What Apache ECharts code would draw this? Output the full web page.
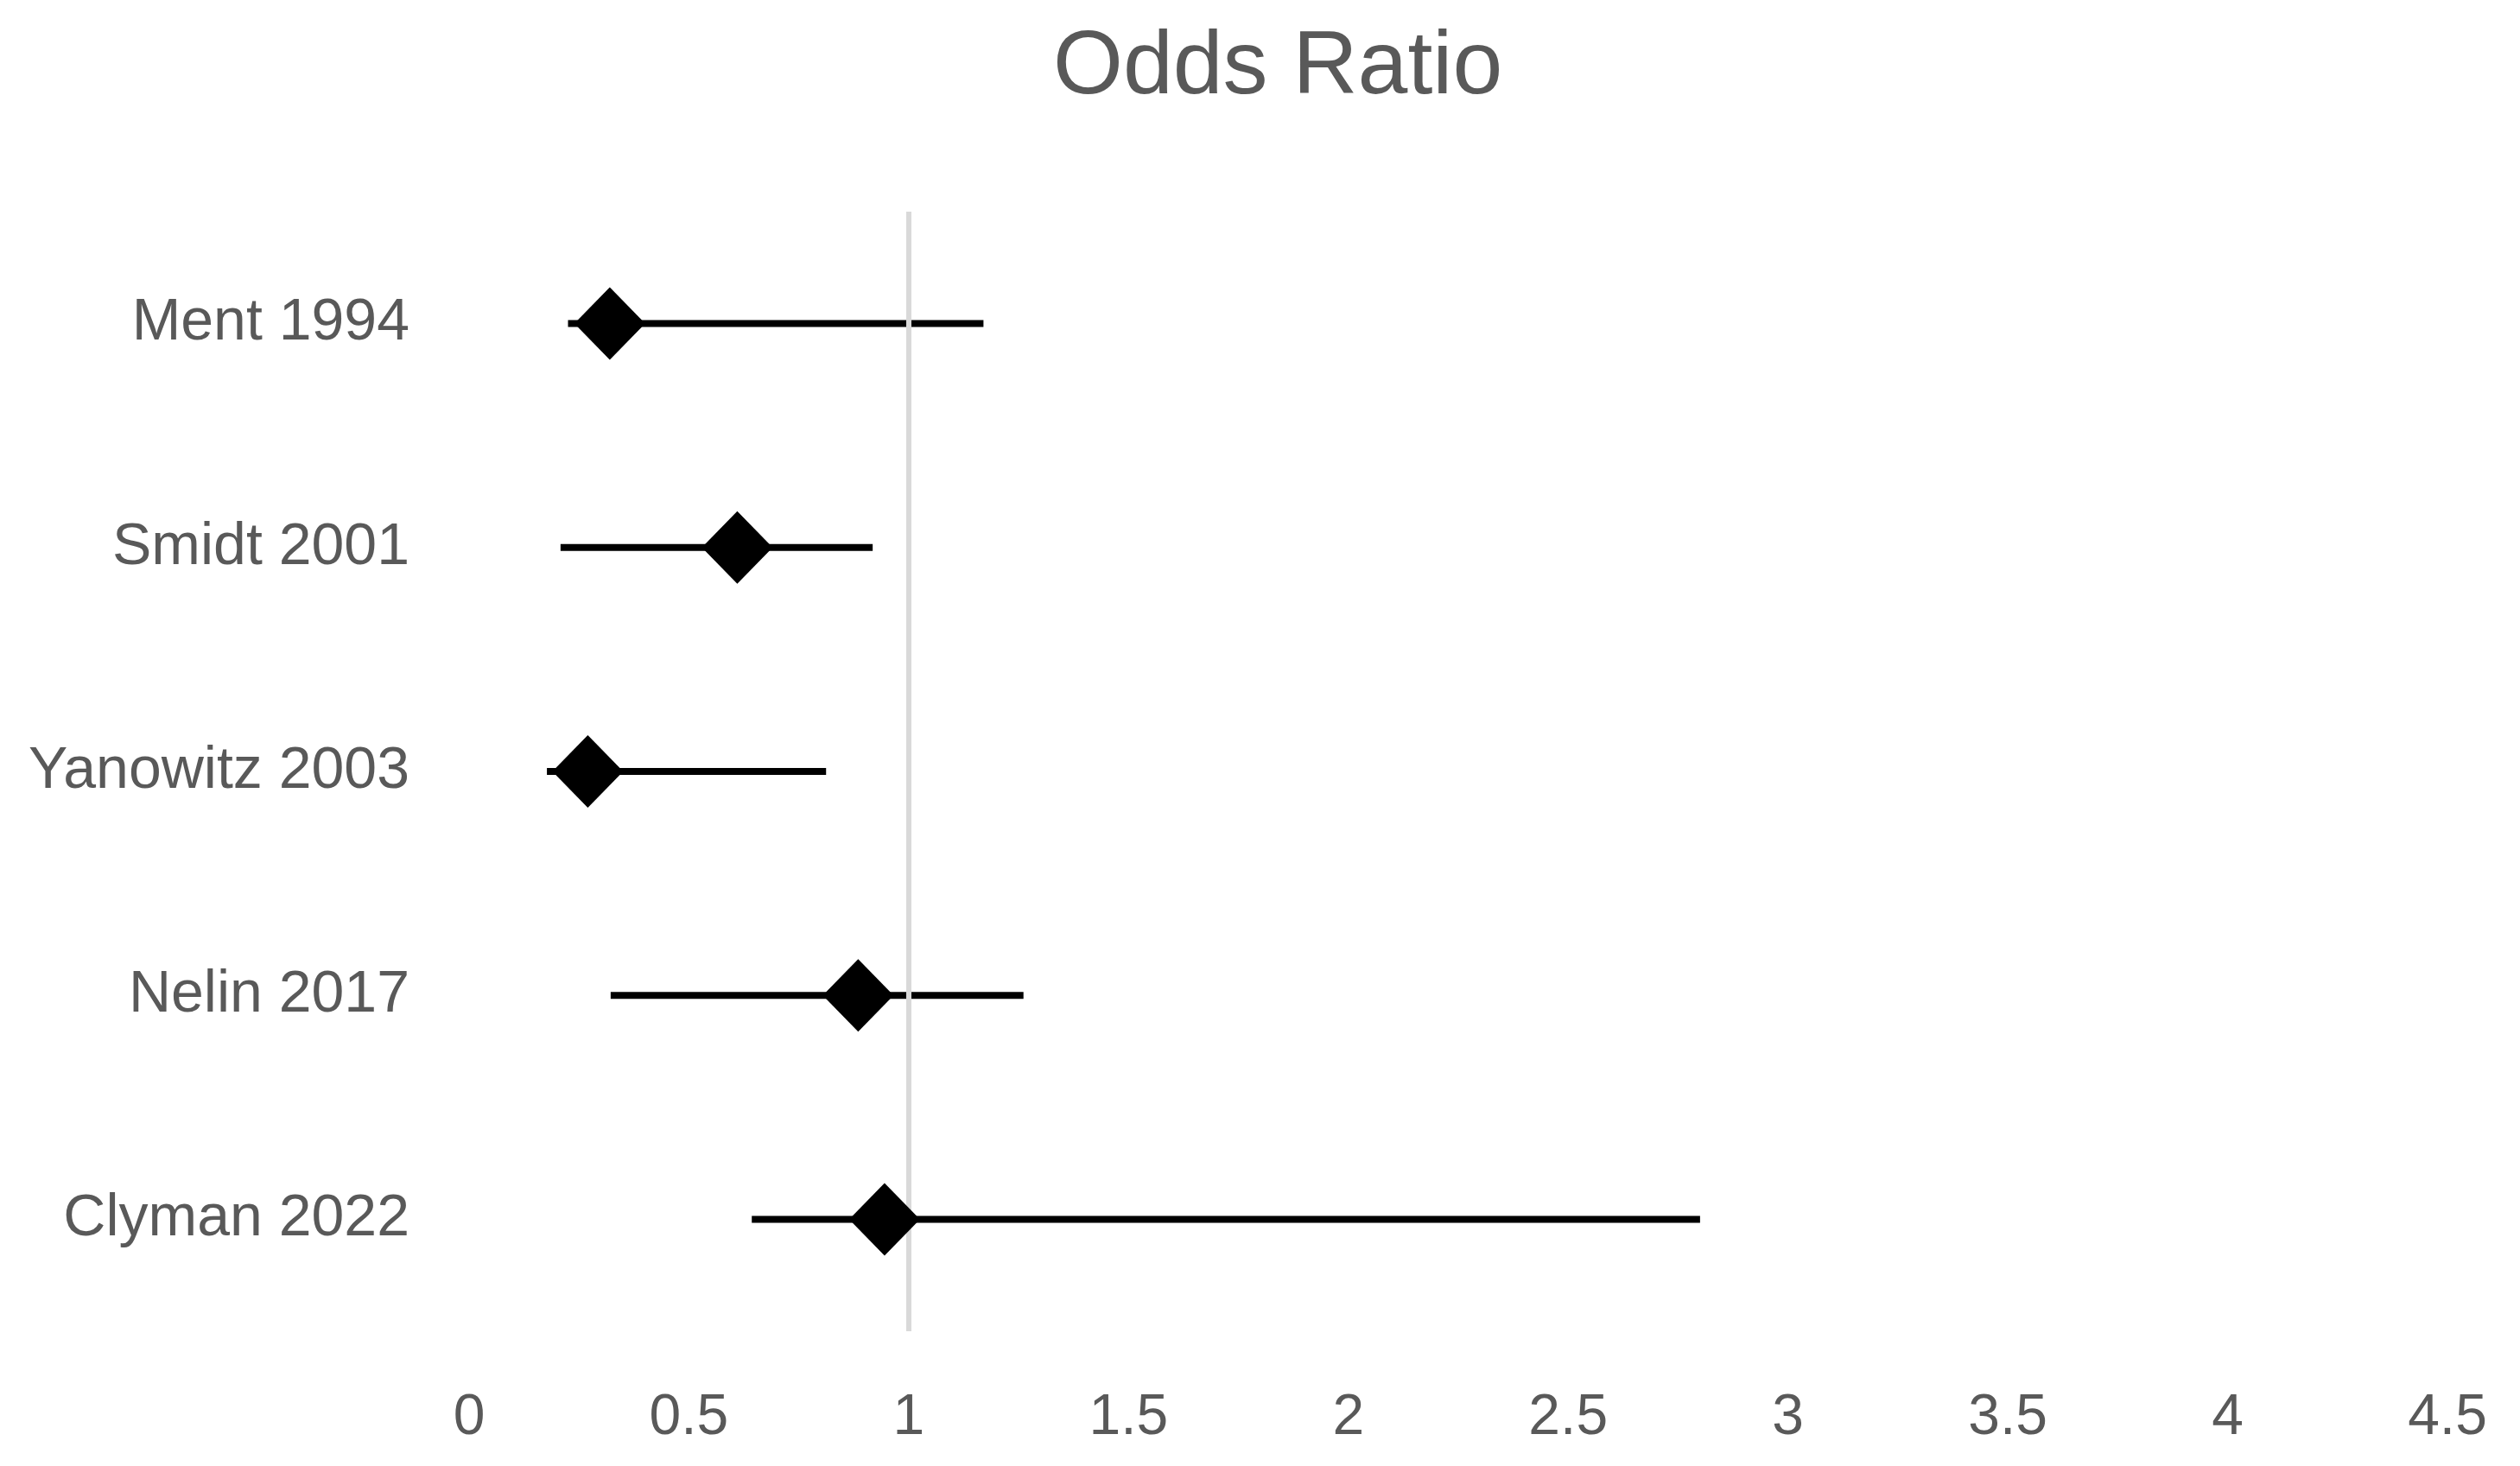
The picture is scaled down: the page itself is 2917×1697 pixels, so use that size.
<!DOCTYPE html>
<html>
<head>
<meta charset="utf-8">
<script src="https://cdn.jsdelivr.net/npm/echarts@6/dist/echarts.min.js"></script>
<style>
html, body { margin: 0; padding: 0; background: #fff; }
#chart { width: 2917px; height: 1697px; }
</style>
</head>
<body>
<div id="chart"></div>
<script>
// study rows, top to bottom
var studies = ['Ment 1994', 'Smidt 2001', 'Yanowitz 2003', 'Nelin 2017', 'Clyman 2022'];
// point estimate and 95% CI
var oddsRatio = [0.32, 0.61, 0.27, 0.885, 0.945];
var ciLower = [0.225, 0.208, 0.177, 0.322, 0.643];
var ciUpper = [1.17, 0.918, 0.812, 1.261, 2.80];
// reference line (no effect)
var refValue = 1;
var xMin = 0, xMax = 4.5, xStep = 0.5;

var txt = '#595959';
var font = 'Liberation Sans';

var points = studies.map(function (s, i) { return [oddsRatio[i], i]; });
var bars = studies.map(function (s, i) { return [ciLower[i], ciUpper[i], i]; });

var chart = echarts.init(document.getElementById('chart'));
chart.setOption({
    backgroundColor: '#fff',
    animation: false,
    title: {
        text: 'Odds Ratio',
        left: 1214,
        top: 22,
        textStyle: { color: txt, fontFamily: font, fontSize: 104, fontWeight: 'normal' }
    },
    grid: { left: 543, right: 84, top: 245, bottom: 156 },
    xAxis: {
        type: 'value',
        min: xMin, max: xMax, interval: xStep,
        axisLine: { show: false },
        axisTick: { show: false },
        splitLine: { show: false },
        axisLabel: { color: txt, fontFamily: font, fontSize: 66, margin: 68 }
    },
    yAxis: {
        type: 'category',
        data: studies,
        inverse: true,
        axisLine: { show: false },
        axisTick: { show: false },
        splitLine: { show: false },
        axisLabel: { color: txt, fontFamily: font, fontSize: 68, margin: 69 }
    },
    series: [{
        type: 'custom',
        z: 2,
        data: bars,
        dimensions: [{ name: 'lo', type: 'number' }, { name: 'hi', type: 'number' }, { name: 'row', type: 'ordinal' }],
        encode: { x: [0, 1], y: 2 },
        renderItem: function (params, api) {
            var row = api.value(2);
            var a = api.coord([api.value(0), row]);
            var b = api.coord([api.value(1), row]);
            return {
                type: 'line',
                shape: { x1: a[0], y1: a[1], x2: b[0], y2: b[1] },
                style: { stroke: '#000', lineWidth: 8 }
            };
        }
    }, {
        type: 'scatter',
        z: 5,
        data: points,
        symbol: 'diamond',
        symbolSize: [82, 84],
        itemStyle: { color: '#000', opacity: 1 },
        markLine: {
            silent: true,
            symbol: 'none',
            z: 3,
            label: { show: false },
            lineStyle: { color: '#d9d9d9', width: 6, type: 'solid', opacity: 1 },
            data: [{ xAxis: refValue }]
        }
    }]
});
</script>
</body>
</html>
